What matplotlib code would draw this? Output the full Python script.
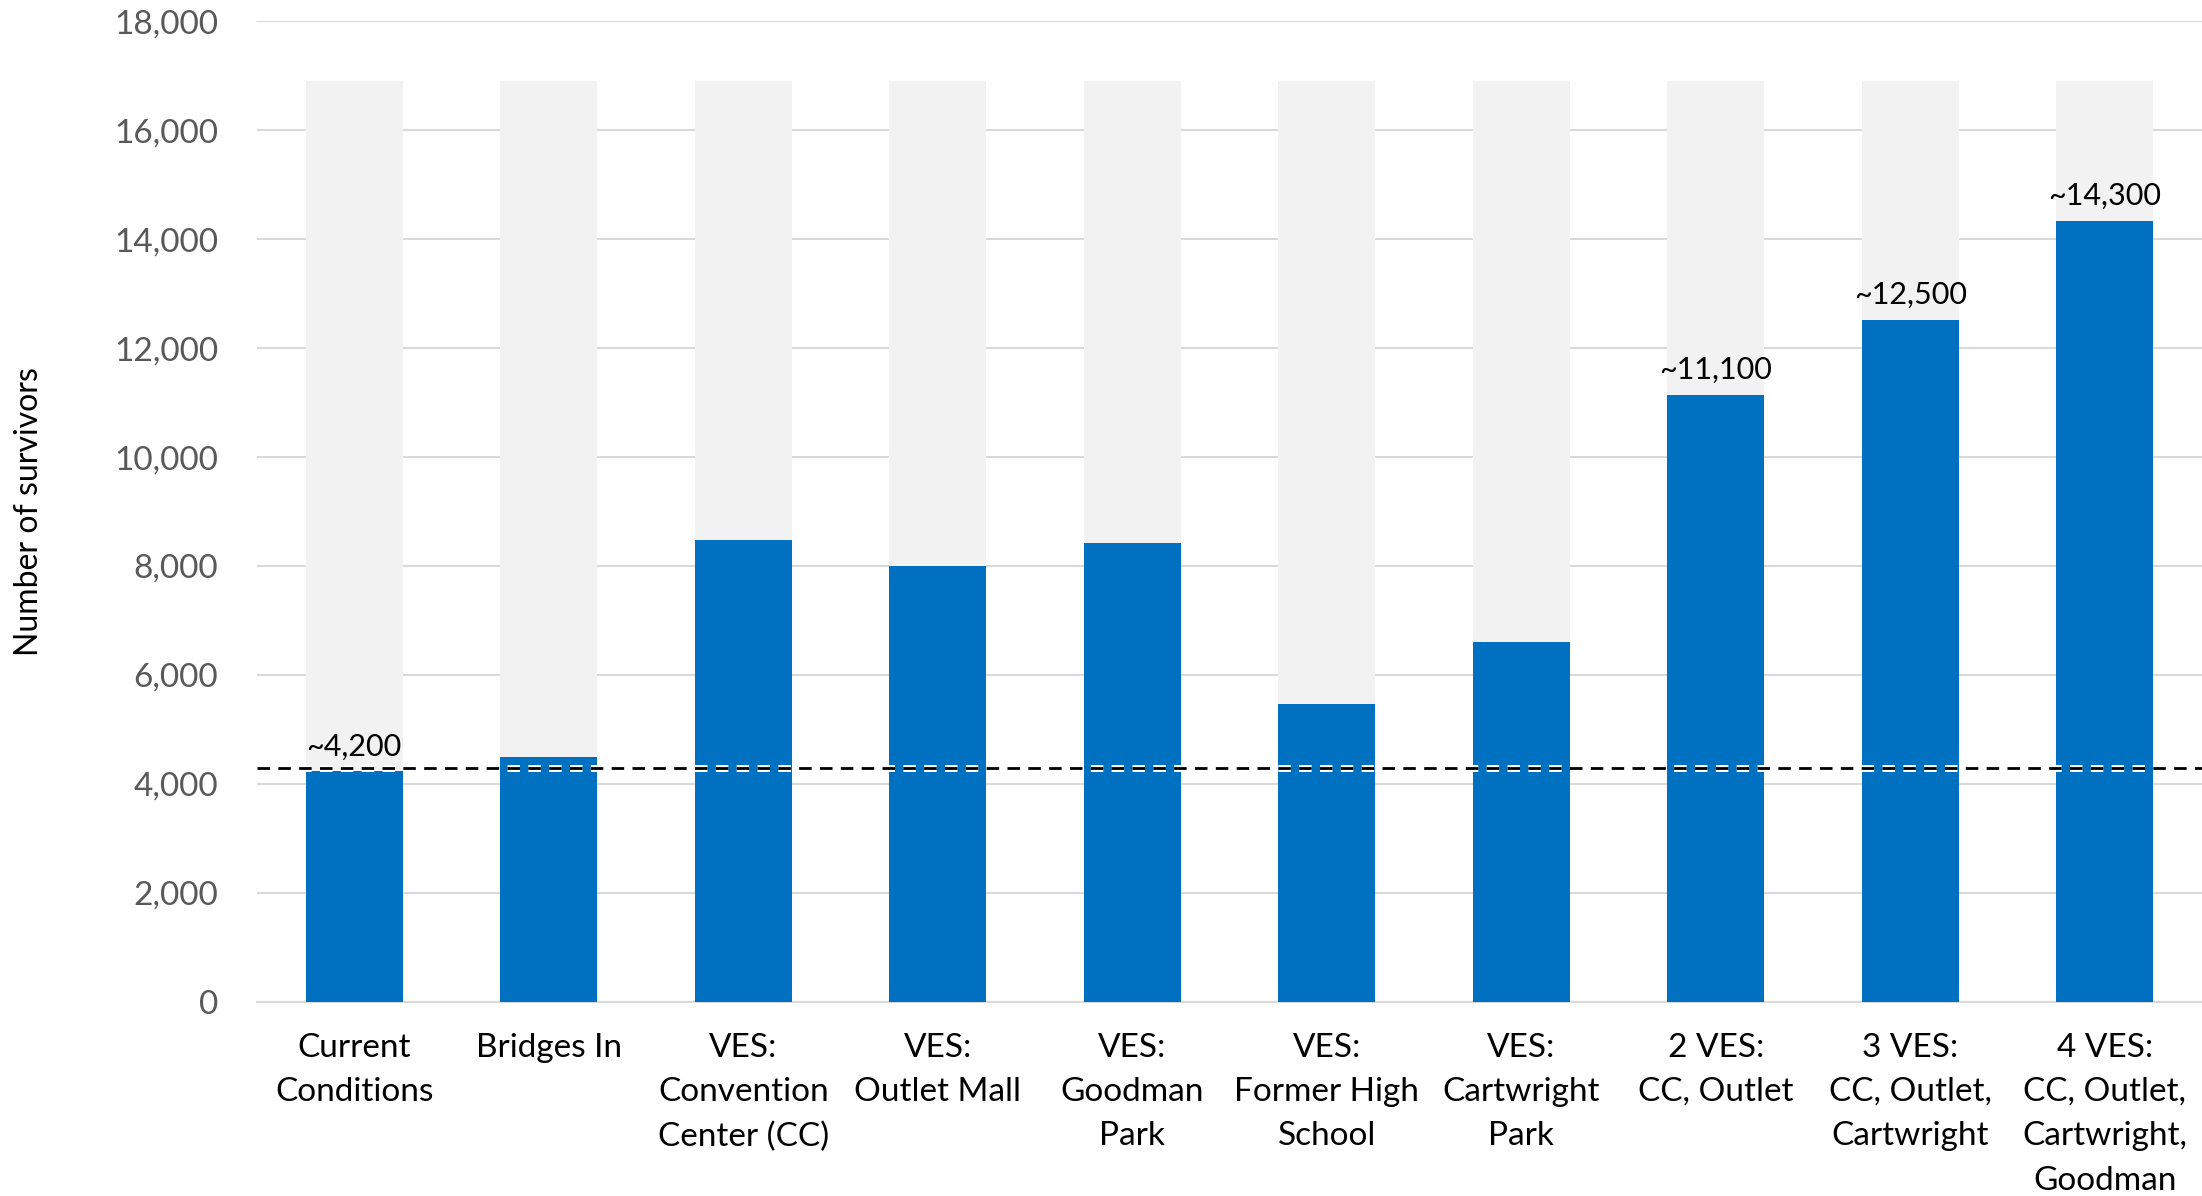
import numpy as np
import matplotlib.pyplot as plt
import matplotlib.patheffects as pe
from matplotlib.ticker import FuncFormatter

plt.rcParams['font.family'] = ['Lato', 'DejaVu Sans']

categories = ["Current\nConditions", "Bridges In", "VES:\nConvention\nCenter (CC)",
              "VES:\nOutlet Mall", "VES:\nGoodman\nPark", "VES:\nFormer High\nSchool",
              "VES:\nCartwright\nPark", "2 VES:\nCC, Outlet", "3 VES:\nCC, Outlet,\nCartwright",
              "4 VES:\nCC, Outlet,\nCartwright,\nGoodman"]
survivors = [4230, 4500, 8480, 8000, 8430, 5470, 6600, 11140, 12510, 14340]
total_pop = [16900] * 10
baseline = 4300
labels = {0: "~4,200", 7: "~11,100", 8: "~12,500", 9: "~14,300"}

fig = plt.figure(figsize=(22.02, 11.96), dpi=100)
ax = fig.add_axes([0.1167, 0.1622, 0.8833, 0.8202])

x = np.arange(len(categories))
ax.bar(x, total_pop, width=0.5, color="#F2F2F2", zorder=2)
ax.bar(x, survivors, width=0.5, color="#0070C0", zorder=3)

for i, txt in labels.items():
    ax.annotate(txt, (x[i], survivors[i]), xytext=(0, 8), textcoords="offset points",
                ha="center", va="bottom", fontsize=22, color="black", zorder=5)

ax.axhline(baseline, color="black", lw=2, dashes=(4.5, 3), zorder=4,
           path_effects=[pe.Stroke(linewidth=5, foreground="white"), pe.Normal()])

ax.set_ylim(0, 18000)
ax.set_xlim(-0.5, len(categories) - 0.5)
ax.set_yticks(np.arange(0, 18001, 2000))
ax.yaxis.set_major_formatter(FuncFormatter(lambda v, p: f"{int(v):,}"))
ax.grid(axis="y", color="#D9D9D9", lw=1.5, zorder=1)
ax.set_axisbelow(True)

ax.set_xticks(x)
ax.set_xticklabels(categories, fontsize=24, linespacing=1.6, color="black")
ax.tick_params(axis="x", length=0, pad=22)
ax.tick_params(axis="y", length=0, pad=28, labelsize=24, labelcolor="#595959")

for s in ["top", "right", "left"]:
    ax.spines[s].set_visible(False)
ax.spines["bottom"].set_color("#D9D9D9")
ax.spines["bottom"].set_linewidth(1.5)

fig.text(0.013, 0.572, "Number of survivors", rotation=90, ha="center", va="center",
         fontsize=23, color="black")

fig.savefig("out.png", dpi=100)
